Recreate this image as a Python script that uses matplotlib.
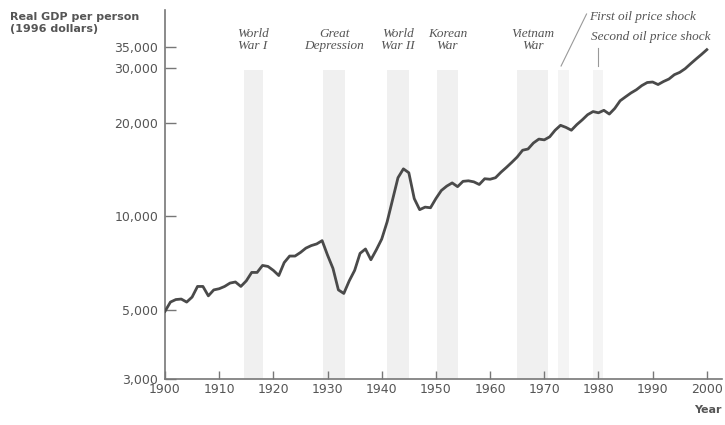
import matplotlib
matplotlib.use("Agg")
import matplotlib.pyplot as plt
from matplotlib.ticker import FixedLocator, NullLocator

# Real GDP per person, US, 1996 dollars
years = list(range(1900, 2001))
gdp_per_person = [
    4950, 5300, 5400, 5420, 5300, 5500, 5950, 5950, 5550, 5800,   # 1900s
    5850, 5950, 6100, 6150, 5950, 6200, 6600, 6600, 6950, 6900,   # 1910s
    6700, 6450, 7100, 7450, 7450, 7650, 7900, 8050, 8150, 8350,   # 1920s
    7500, 6800, 5800, 5650, 6200, 6700, 7600, 7850, 7250, 7800,   # 1930s
    8450, 9600, 11300, 13300, 14200, 13800, 11400, 10500, 10700, 10650,  # 1940s
    11400, 12100, 12500, 12800, 12450, 12950, 13000, 12900, 12650, 13200,  # 1950s
    13150, 13300, 13850, 14350, 14900, 15500, 16300, 16450, 17200, 17700,  # 1960s
    17600, 18000, 18900, 19600, 19300, 18900, 19700, 20400, 21200, 21700,  # 1970s
    21500, 21900, 21300, 22200, 23500, 24200, 24900, 25500, 26300, 26900,  # 1980s
    27000, 26500, 27100, 27600, 28500, 29000, 29800, 30900, 32000, 33100,  # 1990s
    34300,
]

# shaded periods (start, end) and their labels
event_names = ["World\nWar I", "Great\nDepression", "World\nWar II", "Korean\nWar", "Vietnam\nWar"]
event_spans = [(1914.5, 1918), (1929.2, 1933.2), (1941, 1945), (1950.2, 1954), (1965, 1970.7)]
oil_spans = [(1972.5, 1974.6), (1979, 1980.8)]

y_ticks = [3000, 5000, 10000, 20000, 30000, 35000]
y_tick_labels = ["3,000", "5,000", "10,000", "20,000", "30,000", "35,000"]
x_ticks = list(range(1900, 2001, 10))

W, H = 725, 425
AX_BOTTOM, AX_TOP = 379, 10     # pixel rows of the plot frame
AX_H = AX_BOTTOM - AX_TOP


def frac(py):
    # pixel row -> axes fraction
    return (AX_BOTTOM - py) / AX_H


fig = plt.figure(figsize=(7.25, 4.25), dpi=100, facecolor="white")
ax = fig.add_axes([165 / W, (H - AX_BOTTOM) / H, 557 / W, AX_H / H])

for start, end in event_spans:
    ax.axvspan(start, end, ymin=0, ymax=frac(70), color="#f0f0f0", lw=0, zorder=0)
for start, end in oil_spans:
    ax.axvspan(start, end, ymin=0, ymax=frac(70), color="#f4f4f4", lw=0, zorder=0)

ax.plot(years, gdp_per_person, color="#4a4a4a", lw=2.0, solid_joinstyle="round", zorder=3)

ax.set_yscale("log")
ax.set_xlim(1900, 2002.8)
ax.set_ylim(3000, 46000)

ax.yaxis.set_major_locator(FixedLocator(y_ticks))
ax.yaxis.set_minor_locator(NullLocator())
ax.set_yticklabels(y_tick_labels)
ax.set_xticks(x_ticks)

ax.tick_params(axis="both", direction="in", color="#777777", labelcolor="#555555",
               labelsize=9, width=1)
ax.tick_params(axis="y", length=8, pad=5)
ax.tick_params(axis="x", length=6, pad=3)

for side in ["top", "right"]:
    ax.spines[side].set_visible(False)
for side in ["left", "bottom"]:
    ax.spines[side].set_color("#777777")
    ax.spines[side].set_linewidth(1.2)

# axis titles
fig.text(10 / W, 1 - 12 / H, "Real GDP per person\n(1996 dollars)", ha="left", va="top",
         fontsize=8, fontweight="bold", color="#555555", linespacing=1.3)
fig.text(722 / W, 1 - 410 / H, "Year", ha="right", va="center",
         fontsize=8, fontweight="bold", color="#555555")

# event labels
label_font = dict(family="Liberation Serif", style="italic", fontsize=9.5, color="#555555")
xt = ax.get_xaxis_transform()
for name, (start, end) in zip(event_names, event_spans):
    ax.text((start + end) / 2, frac(40), name, transform=xt, ha="center", va="center",
            linespacing=1.1, **label_font)

ax.text(1978.2, frac(17), "First oil price shock", transform=xt, ha="left",
        va="center", clip_on=False, **label_font)
ax.text(1978.6, frac(37), "Second oil price shock", transform=xt, ha="left",
        va="center", clip_on=False, **label_font)
ax.plot([1977.8, 1973.1], [frac(14), frac(66)], transform=xt,
        color="#999999", lw=0.8, clip_on=False)
ax.plot([1979.9, 1979.9], [frac(48), frac(66)], transform=xt,
        color="#999999", lw=0.8, clip_on=False)

fig.savefig("out.png", dpi=100, facecolor="white")
